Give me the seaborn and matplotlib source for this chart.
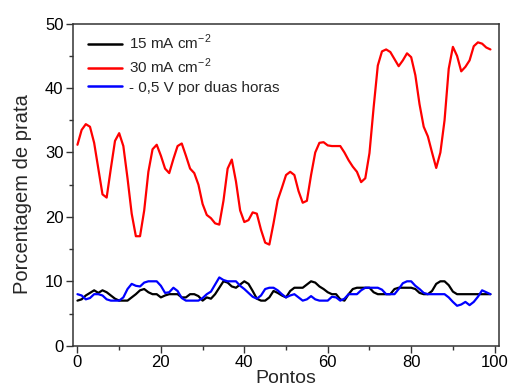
import numpy as np
import pandas as pd
import matplotlib
matplotlib.use("Agg")
import matplotlib.pyplot as plt
from matplotlib.ticker import MultipleLocator
import seaborn as sns

sns.set_style("ticks")
plt.rcParams['font.family'] = ['Liberation Sans', 'DejaVu Sans']
plt.rcParams['mathtext.fontset'] = 'custom'
plt.rcParams['mathtext.rm'] = 'Liberation Sans'

pontos = list(range(100))

series_names = ["15 mA cm$^{\\mathregular{-2}}$",
                "30 mA cm$^{\\mathregular{-2}}$",
                "- 0,5 V por duas horas"]
colors = ["black", "red", "blue"]

prata_15 = [7, 7.2, 7.8, 8.2, 8.6, 8.2, 8.6, 8.3, 7.8, 7.3,
            7, 7, 7, 7.5, 8, 8.6, 8.8, 8.3, 8, 8,
            7.5, 7.8, 8, 8, 8, 7.5, 7.5, 8, 8, 7.7,
            7, 7.5, 7.3, 8, 9, 10, 9.8, 9.2, 9, 9.5,
            10, 9.6, 8.5, 7.3, 7, 7, 7.5, 8.5, 8.2, 7.8,
            7.5, 8.5, 9, 9, 9, 9.5, 10, 9.8, 9.2, 8.8,
            8.3, 8, 8, 7.2, 7, 8, 8.8, 9, 9, 9,
            9, 8.3, 8, 8, 8, 8, 8.8, 9, 9, 9,
            9, 8.8, 8.2, 8, 8, 8.5, 9.6, 10, 10, 9.4,
            8.4, 8, 8, 8, 8, 8, 8, 8, 8, 8]

prata_30 = [31.2, 33.5, 34.4, 34.0, 31.5, 27.5, 23.5, 23.0, 27.5, 31.8,
            33.0, 31.0, 26.0, 20.5, 17.0, 17.0, 21.0, 27.0, 30.5, 31.2,
            29.5, 27.5, 26.8, 29.0, 31.0, 31.4, 29.5, 27.5, 26.8, 25.0,
            22.0, 20.3, 19.8, 19.0, 18.8, 22.5, 27.5, 28.9, 25.5, 21.0,
            19.2, 19.5, 20.7, 20.5, 18.0, 16.0, 15.7, 19.0, 22.6, 24.5,
            26.5, 27.0, 26.5, 24.0, 22.2, 22.5, 26.5, 30.0, 31.5, 31.6,
            31.1, 31.0, 31.0, 31.0, 30.0, 28.8, 27.8, 27.0, 25.4, 26.0,
            29.9, 37.0, 43.5, 45.7, 46.0, 45.6, 44.5, 43.4, 44.3, 45.4,
            44.8, 42.0, 37.5, 34.0, 32.5, 30.0, 27.6, 30.0, 35.0, 43.0,
            46.4, 45.0, 42.6, 43.3, 44.3, 46.5, 47.1, 46.9, 46.3, 46.0]

prata_05v = [8, 7.8, 7.2, 7.4, 8, 8, 7.8, 7.2, 7, 7,
             7, 7.5, 8.8, 9.6, 9.3, 9.2, 9.8, 10, 10, 10,
             9.3, 8.2, 8.3, 9, 8.5, 7.4, 7, 7, 7, 7,
             7.4, 8, 8.4, 9.5, 10.6, 10.2, 10, 10, 10, 9.3,
             8.8, 8.2, 7.6, 7.3, 7.8, 8.8, 9, 9, 8.6, 8,
             7.5, 7.8, 8, 7.5, 7, 7.2, 7.7, 7.2, 7, 7,
             7, 7.6, 7.5, 7, 7.3, 8, 8, 8, 8.6, 9,
             9, 9, 9, 8.7, 8, 8, 8, 8.8, 9.7, 10,
             10, 9.3, 8.8, 8.2, 8, 8, 8, 8, 8, 7.5,
             6.8, 6.2, 6.4, 6.8, 6.3, 6.8, 7.6, 8.6, 8.3, 8]

frames = []
for name, vals in zip(series_names, [prata_15, prata_30, prata_05v]):
    frames.append(pd.DataFrame({"Pontos": pontos, "Prata": vals, "Serie": name}))
df = pd.concat(frames, ignore_index=True)

fig = plt.figure(figsize=(5.10, 3.87), dpi=100)
ax = fig.add_axes([0.1437, 0.1067, 0.978 - 0.1437, 0.9388 - 0.1067])

sns.lineplot(data=df, x="Pontos", y="Prata", hue="Serie", hue_order=series_names,
             palette=colors, linewidth=1.6, ax=ax, estimator=None, sort=False)
for ln in ax.get_lines():
    ln.set_solid_joinstyle('round')
    ln.set_solid_capstyle('round')

ax.set_xlim(-1, 101)
ax.set_ylim(0, 50)
ax.xaxis.set_major_locator(MultipleLocator(20))
ax.xaxis.set_minor_locator(MultipleLocator(10))
ax.yaxis.set_major_locator(MultipleLocator(10))
ax.yaxis.set_minor_locator(MultipleLocator(5))
ax.tick_params(which='major', direction='out', length=5, width=1, labelsize=12, pad=2,
               colors='#333333', labelcolor='black')
ax.tick_params(which='minor', direction='out', length=3, width=1, colors='#333333')
for s in ax.spines.values():
    s.set_visible(True)
    s.set_linewidth(1.1)
    s.set_color('#333333')

ax.set_xlabel("Pontos", fontsize=14, labelpad=0)
ax.set_ylabel("Porcentagem de prata", fontsize=14.5)
ax.yaxis.set_label_coords(-0.098, 0.47)

leg = ax.legend(loc='upper left', frameon=False, fontsize=11, handlelength=2.2,
                handletextpad=0.5, labelspacing=0.3, borderaxespad=0.3,
                bbox_to_anchor=(0.01, 1.005))
for line in leg.get_lines():
    line.set_linewidth(1.8)

fig.savefig("out.png", dpi=100)
